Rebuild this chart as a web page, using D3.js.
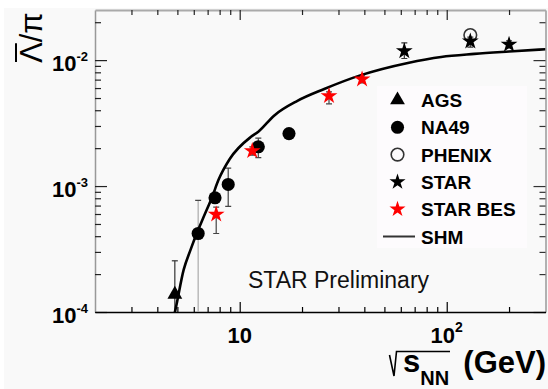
<!DOCTYPE html>
<html><head><meta charset="utf-8">
<script src="https://cdn.jsdelivr.net/npm/d3@7"></script>
<style>
html,body{margin:0;padding:0;background:#fff;}
svg{display:block;font-family:"Liberation Sans",Arial,Helvetica,sans-serif;}
</style></head><body>
<svg id="c" width="548" height="389"></svg>
<script>
// ---------- data ----------
const agsE = [4.86];
const agsV = [1.38e-4];
const agsLo = [0.5e-4];
const agsHi = [2.55e-4];

const na49E = [6.3, 7.6, 8.8, 12.3, 17.3];
const na49V = [4.2e-4, 8.07e-4, 1.03e-3, 2.05e-3, 2.61e-3];
const na49Lo = [4.2e-4, 7.6e-4, 6.9e-4, 1.68e-3, 2.45e-3];
const na49Hi = [4.2e-4, 8.6e-4, 1.39e-3, 2.4e-3, 2.8e-3];
const na49SysE = [6.3];
const na49SysLo = [0.5e-4];
const na49SysHi = [7.7e-4];

const phenixE = [130];
const phenixV = [0.0158];

const starE = [62.4, 130, 200];
const starV = [0.0118, 0.0141, 0.0133];
const starLo = [0.0103, 0.0127, 0.0125];
const starHi = [0.0137, 0.0152, 0.0142];

const besE = [7.7, 11.5, 27, 39];
const besV = [5.96e-4, 1.9e-3, 5.2e-3, 7.05e-3];
const besLo = [4.2e-4, 1.76e-3, 4.5e-3, 6.6e-3];
const besHi = [6.8e-4, 2.05e-3, 5.6e-3, 7.5e-3];

const shmE = [4.7, 4.89, 5.36, 5.78, 6.22, 6.7, 7.36, 7.9, 8.95, 11.3, 12.3, 14.7, 19, 25.6, 38.5, 64.9, 94, 136, 200, 300];
const shmV = [0.8e-4, 1.04e-4, 2.16e-4, 3.1e-4, 4.26e-4, 5.7e-4, 8.2e-4, 1.12e-3, 1.64e-3, 2.45e-3, 2.7e-3, 3.64e-3, 4.75e-3, 5.9e-3, 7.6e-3, 9.5e-3, 1.06e-2, 1.12e-2, 1.17e-2, 1.22e-2];

const xMajor = [10, 100];
const xLabelExp = ["", "2"];
const yMajor = [1e-4, 1e-3, 1e-2];
const yLabelExp = ["-4", "-3", "-2"];
const legendLabels = ["AGS", "NA49", "PHENIX", "STAR", "STAR BES", "SHM"];

// ---------- setup ----------
const svg = d3.select("#c");
const L = 95, R = 545.5, T = 10, B = 312;
const x = d3.scaleLog().domain([2, 300]).range([L, R]);
const y = d3.scaleLog().domain([1e-4, 0.025]).range([B, T]);

svg.append("rect").attr("width", 548).attr("height", 389).attr("fill", "#fff");
svg.append("rect").attr("x", 4).attr("y", 8).attr("width", 544).attr("height", 381).attr("fill", "#f9f9f9");

svg.append("clipPath").attr("id", "clip").append("rect")
  .attr("x", L).attr("y", T).attr("width", R - L).attr("height", B - T);

// minor ticks
const xMinor = [], yMinor = [];
[1, 10, 100].forEach(d => { for (let k = 2; k <= 9; k++) { const v = k * d; if (v > 2 && v < 300) xMinor.push(v); } });
[1e-4, 1e-3, 1e-2].forEach(d => { for (let k = 2; k <= 9; k++) { const v = k * d; if (v < 0.025) yMinor.push(v); } });

function styleAxis(g, domainColor, tickColor, w) {
  g.select(".domain").attr("stroke", domainColor).attr("stroke-width", w);
  g.selectAll(".tick line").attr("stroke", tickColor).attr("stroke-width", 1.2);
}
let g;
// left
g = svg.append("g").attr("transform", `translate(${L},0)`).call(d3.axisLeft(y).tickValues(yMajor).tickSize(-12).tickSizeOuter(0).tickFormat(""));
styleAxis(g, "#999", "#222", 1.5);
g = svg.append("g").attr("transform", `translate(${L},0)`).call(d3.axisLeft(y).tickValues(yMinor).tickSize(-6).tickSizeOuter(0).tickFormat(""));
styleAxis(g, "none", "#222", 1.5);
// right
g = svg.append("g").attr("transform", `translate(${R},0)`).call(d3.axisRight(y).tickValues(yMajor).tickSize(-12).tickSizeOuter(0).tickFormat(""));
styleAxis(g, "#999", "#333", 1.5);
g = svg.append("g").attr("transform", `translate(${R},0)`).call(d3.axisRight(y).tickValues(yMinor).tickSize(-6).tickSizeOuter(0).tickFormat(""));
styleAxis(g, "none", "#333", 1.5);
// top
g = svg.append("g").attr("transform", `translate(0,${T})`).call(d3.axisTop(x).tickValues(xMajor).tickSize(-10).tickSizeOuter(0).tickFormat(""));
styleAxis(g, "#aaa", "#222", 2);
g = svg.append("g").attr("transform", `translate(0,${T})`).call(d3.axisTop(x).tickValues(xMinor).tickSize(-5).tickSizeOuter(0).tickFormat(""));
styleAxis(g, "none", "#222", 2);
// bottom
g = svg.append("g").attr("transform", `translate(0,${B})`).call(d3.axisBottom(x).tickValues(xMajor).tickSize(-10).tickSizeOuter(0).tickFormat(""));
styleAxis(g, "#000", "#000", 1.6);
g = svg.append("g").attr("transform", `translate(0,${B})`).call(d3.axisBottom(x).tickValues(xMinor).tickSize(-5).tickSizeOuter(0).tickFormat(""));
styleAxis(g, "none", "#000", 1.6);

// tick labels
yMajor.forEach((v, i) => {
  const t = svg.append("text").attr("x", 88).attr("y", y(v) + 11)
    .attr("text-anchor", "end").attr("font-weight", "bold").attr("font-size", 22).attr("fill", "#000");
  t.append("tspan").text("10");
  t.append("tspan").attr("font-size", 13).attr("dy", -10).text(yLabelExp[i]);
});
xMajor.forEach((v, i) => {
  const t = svg.append("text").attr("x", x(v)).attr("y", 343)
    .attr("text-anchor", "middle").attr("font-weight", "bold").attr("font-size", 22).attr("fill", "#000");
  t.append("tspan").text("10");
  if (xLabelExp[i]) t.append("tspan").attr("font-size", 14).attr("dy", -11).text(xLabelExp[i]);
});

// axis titles
const yt = svg.append("g").attr("transform", "translate(42,63) rotate(-90)");
const ytt = yt.append("text").attr("font-size", 31).attr("fill", "#000");
ytt.append("tspan").text("Λ");
ytt.append("tspan").text("/π");
const lw = ytt.node().getSubStringLength(0, 1);
yt.append("line").attr("x1", 1).attr("x2", lw - 1).attr("y1", -26).attr("y2", -26).attr("stroke", "#000").attr("stroke-width", 2);

svg.append("path").attr("d", "M389.5,355 L394,376 L396.5,351.5 L450,351.5").attr("fill", "none").attr("stroke", "#000").attr("stroke-width", 1.6);
const xt = svg.append("text").attr("x", 403).attr("y", 372).attr("font-weight", "bold").attr("font-size", 31).attr("fill", "#000");
xt.append("tspan").text("s");
xt.append("tspan").attr("font-size", 20).attr("dy", 13).text("NN");
svg.append("text").attr("x", 546).attr("y", 373).attr("text-anchor", "end").attr("font-weight", "bold").attr("font-size", 31).attr("fill", "#000").text("(GeV)");

// plot contents
const plot = svg.append("g").attr("clip-path", "url(#clip)");

svg.append("text").attr("x", 248).attr("y", 288).attr("font-size", 23).attr("fill", "#111").text("STAR Preliminary");

function errBars(E, Lo, Hi, color, capColor) {
  E.forEach((e, i) => {
    const cx = x(e);
    plot.append("line").attr("x1", cx).attr("x2", cx).attr("y1", y(Lo[i])).attr("y2", y(Hi[i]))
      .attr("stroke", color).attr("stroke-width", 1.2);
    [Lo[i], Hi[i]].forEach(v => {
      plot.append("line").attr("x1", cx - 3).attr("x2", cx + 3).attr("y1", y(v)).attr("y2", y(v))
        .attr("stroke", capColor).attr("stroke-width", 1.2);
    });
  });
}
errBars(na49SysE, na49SysLo, na49SysHi, "#aaa", "#444");
errBars(agsE, agsLo, agsHi, "#333", "#333");
errBars(na49E, na49Lo, na49Hi, "#444", "#444");
errBars(besE, besLo, besHi, "#444", "#444");
errBars(starE, starLo, starHi, "#333", "#333");

// SHM curve
const shm = shmE.map((e, i) => [e, shmV[i]]);
plot.append("path").datum(shm)
  .attr("d", d3.line().x(d => x(d[0])).y(d => y(d[1])).curve(d3.curveMonotoneX))
  .attr("fill", "none").attr("stroke", "#000").attr("stroke-width", 2.6);

const tri = d3.symbol(d3.symbolTriangle, 95)();
const circ = d3.symbol(d3.symbolCircle, 135)();
const ocirc = d3.symbol(d3.symbolCircle, 125)();
const star = d3.symbol(d3.symbolStar, 88)();

function markers(E, V, path, fill, stroke, sw) {
  E.forEach((e, i) => {
    plot.append("path").attr("d", path).attr("transform", `translate(${x(e)},${y(V[i])})`)
      .attr("fill", fill).attr("stroke", stroke || "none").attr("stroke-width", sw || 0);
  });
}
markers(agsE, agsV, tri, "#000");
markers(na49E, na49V, circ, "#000");
markers(phenixE, phenixV, ocirc, "none", "#333", 1.6);
markers(starE, starV, star, "#000");
markers(besE, besV, star, "#f00");

// legend
const lg = svg.append("g");
lg.append("rect").attr("x", 377).attr("y", 86).attr("width", 150).attr("height", 162).attr("fill", "#fdfbfd");
const legSym = [
  {p: tri, f: "#000"}, {p: circ, f: "#000"}, {p: ocirc, f: "none", s: "#333"},
  {p: d3.symbol(d3.symbolStar, 80)(), f: "#000"}, {p: d3.symbol(d3.symbolStar, 80)(), f: "#f00"}, {line: true}
];
legendLabels.forEach((lab, i) => {
  const cy = 100 + i * 27.3;
  const s = legSym[i];
  if (s.line) {
    lg.append("line").attr("x1", 383).attr("x2", 415).attr("y1", cy).attr("y2", cy).attr("stroke", "#333").attr("stroke-width", 2);
  } else {
    lg.append("path").attr("d", s.p).attr("transform", `translate(397.5,${cy})`)
      .attr("fill", s.f).attr("stroke", s.s || "none").attr("stroke-width", s.s ? 1.6 : 0);
  }
  lg.append("text").attr("x", 421).attr("y", cy + 7).attr("font-weight", "bold").attr("font-size", 19).attr("fill", "#000").text(lab);
});
</script>
</body></html>
